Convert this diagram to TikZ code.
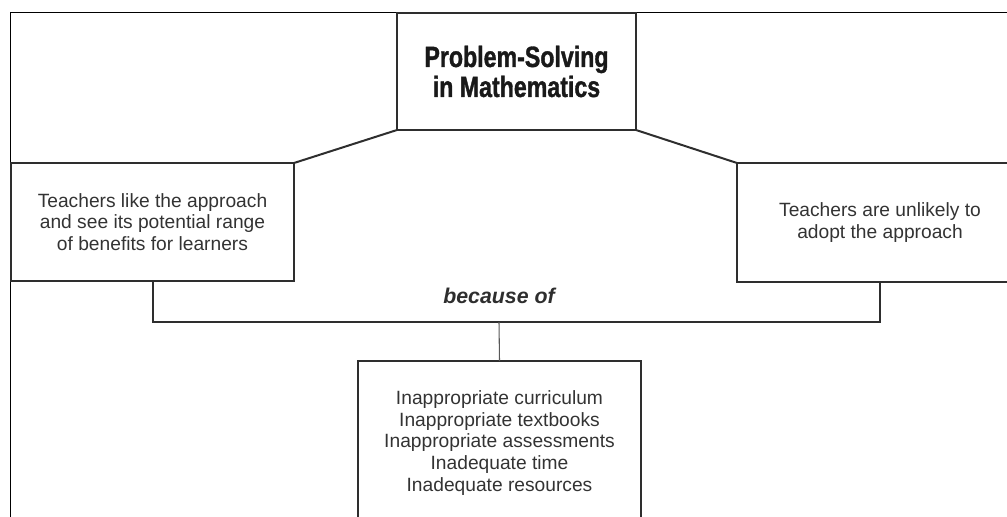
\documentclass[tikz,border=0pt]{standalone}
\usepackage{fontspec}
\setmainfont{Liberation Sans}
\newfontfamily\titlefont[FakeStretch=0.79,FakeBold=1.2]{Liberation Sans Bold}
\definecolor{inkgray}{HTML}{2E2E2E}
\definecolor{textgray}{HTML}{333333}
\tikzset{
	box/.style={draw=inkgray, line width=1.5pt, inner sep=0pt, outer sep=0pt, align=center,
		text=textgray, font=\fontsize{14.4pt}{16.2pt}\selectfont},
	link/.style={draw=inkgray, line width=1.5pt},
}
\begin{document}
\begin{tikzpicture}[x=0.75pt, y=-0.75pt, line join=miter]
		\useasboundingbox (0,0) rectangle (1007,517);
		% outer frame, only top and left edges show
		\draw[black, line width=1.2pt] (10.5,530) |- (1020,12.5);
		\node[box, minimum width=239*0.75pt, minimum height=117*0.75pt, text=black!90,
			font=\titlefont\fontsize{22pt}{22.5pt}\selectfont] (title) at (516.5,71.5)
			{Problem-Solving\\in Mathematics};
		\node[box, minimum width=283*0.75pt, minimum height=118*0.75pt] (likes) at (152.5,222)
			{Teachers like the approach\\and see its potential range\\of benefits for learners};
		\node[box, minimum width=286*0.75pt, minimum height=119*0.75pt] (unlikely) at (880,222.5)
			{Teachers are unlikely to\\adopt the approach};
		\node[box, minimum width=283*0.75pt, minimum height=164*0.75pt] (causes) at (499.5,443)
			{Inappropriate curriculum\\Inappropriate textbooks\\Inappropriate assessments\\Inadequate time\\Inadequate resources};
		\node[text=inkgray, font=\fontsize{16pt}{19pt}\selectfont\bfseries\itshape] (because) at (499,296) {because of};
		\coordinate (junction) at (499,322);
		% connectors
		\draw[link] (likes.north east) -- (title.south west);
		\draw[link] (title.south east) -- (unlikely.north west);
		\draw[link] (likes.south) |- (junction) -| (unlikely.south);
		\draw[inkgray!80, line width=0.8pt] (junction) -- (causes.north);
\end{tikzpicture}
\end{document}
